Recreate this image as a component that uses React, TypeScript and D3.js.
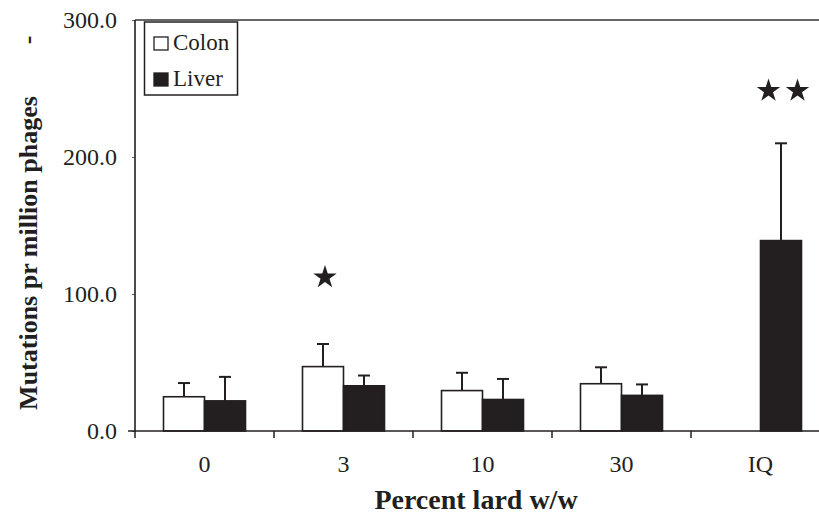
import React, { useEffect, useRef } from 'react';
import * as d3 from 'd3';

const categories = ['0', '3', '10', '30', 'IQ'];
const seriesNames = ['Colon', 'Liver'];
const colonValues: (number | null)[] = [25, 47, 29.5, 34.5, null];
const colonErrors: (number | null)[] = [10, 16.5, 13, 12, null];
const liverValues: (number | null)[] = [22, 33, 23, 26, 139];
const liverErrors: (number | null)[] = [17.5, 7.5, 15, 8, 71];
const yTicks = [0, 100, 200, 300];
// significance stars: category, series it sits over, value level, count
const stars = [
  { category: '3', series: 'Colon', level: 113, count: 1 },
  { category: 'IQ', series: 'Liver', level: 249, count: 2 },
];

const W = 819;
const H = 514;
const FONT = '"Liberation Serif", "Times New Roman", serif';

const App = () => {
  const ref = useRef<SVGSVGElement>(null);

  useEffect(() => {
    const svg = d3.select(ref.current);
    svg.selectAll('*').remove();

    const left = 135;
    const top = 20;
    const bottom = 431;

    const y = d3.scaleLinear().domain([0, 300]).range([bottom, top]);
    const x = d3.scaleBand().domain(categories).range([left, 830]).padding(0);
    const bw = x.bandwidth();
    const barW = 41;
    const x1 = d3.scaleBand().domain(seriesNames)
      .range([bw / 2 - barW, bw / 2 + barW]).padding(0);

    const rows = categories.map((c, i) => [
      { cat: c, s: 'Colon', v: colonValues[i], e: colonErrors[i], fill: '#ffffff' },
      { cat: c, s: 'Liver', v: liverValues[i], e: liverErrors[i], fill: '#231f20' },
    ]).flat().filter(d => d.v !== null);

    // top frame line
    svg.append('line')
      .attr('x1', left).attr('x2', W)
      .attr('y1', top).attr('y2', top)
      .attr('stroke', '#333').attr('stroke-width', 1.3);

    // error bars (drawn first so bars cover the stem base)
    const eb = svg.append('g').attr('stroke', '#231f20').attr('stroke-width', 2);
    rows.forEach((d) => {
      const cx = (x(d.cat) as number) + (x1(d.s) as number) + barW / 2;
      const yt = y((d.v as number) + (d.e as number));
      eb.append('line').attr('x1', cx).attr('x2', cx)
        .attr('y1', y(d.v as number)).attr('y2', yt);
      eb.append('line').attr('x1', cx - 6).attr('x2', cx + 6)
        .attr('y1', yt).attr('y2', yt);
    });

    svg.append('g').selectAll('rect').data(rows).enter()
      .append('rect')
      .attr('x', d => (x(d.cat) as number) + (x1(d.s) as number))
      .attr('y', d => y(d.v as number))
      .attr('width', barW)
      .attr('height', d => bottom - y(d.v as number))
      .attr('fill', d => d.fill)
      .attr('stroke', '#231f20')
      .attr('stroke-width', 1.6);

    // axes
    const yAxis = svg.append('g')
      .attr('transform', `translate(${left},0)`)
      .call(d3.axisLeft(y).tickValues(yTicks).tickSize(3).tickFormat(d3.format('.1f')));
    yAxis.select('.domain').remove();
    yAxis.selectAll('.tick line').attr('stroke', '#666').attr('stroke-width', 1);
    yAxis.selectAll('.tick text')
      .attr('x', -18)
      .attr('font-family', FONT)
      .attr('font-size', 24)
      .attr('fill', '#231f20');
    svg.append('line')
      .attr('x1', left).attr('x2', left)
      .attr('y1', top).attr('y2', bottom)
      .attr('stroke', '#231f20').attr('stroke-width', 1.6);
    svg.append('line')
      .attr('x1', left - 7).attr('x2', W)
      .attr('y1', bottom).attr('y2', bottom)
      .attr('stroke', '#231f20').attr('stroke-width', 1.6);

    // category boundary ticks
    const bounds = categories.map(c => x(c) as number).concat([x.range()[1]]);
    svg.append('g').selectAll('line').data(bounds).enter()
      .append('line')
      .attr('x1', d => d).attr('x2', d => d)
      .attr('y1', bottom).attr('y2', bottom + 7)
      .attr('stroke', '#231f20').attr('stroke-width', 1.5);

    svg.append('g').selectAll('text').data(categories).enter()
      .append('text')
      .attr('x', d => (x(d) as number) + bw / 2)
      .attr('y', 472)
      .attr('text-anchor', 'middle')
      .attr('font-family', FONT)
      .attr('font-size', 24)
      .attr('fill', '#231f20')
      .text(d => d);

    // stars
    const starPath = d3.symbol().type(d3.symbolStar).size(170)();
    stars.forEach((s) => {
      const cx = (x(s.category) as number) + (x1(s.series) as number) + barW / 2;
      for (let k = 0; k < s.count; k += 1) {
        const off = (k - (s.count - 1) / 2) * 29;
        svg.append('path')
          .attr('d', starPath)
          .attr('transform', `translate(${cx + off + 2},${y(s.level) + 1})`)
          .attr('fill', '#231f20');
      }
    });

    // axis titles
    svg.append('text')
      .attr('transform', 'translate(37,253) rotate(-90)')
      .attr('text-anchor', 'middle')
      .attr('font-family', FONT)
      .attr('font-weight', 'bold')
      .attr('font-size', 26)
      .attr('fill', '#231f20')
      .text('Mutations pr million phages');
    svg.append('text')
      .attr('transform', 'translate(36,40) rotate(-90)')
      .attr('text-anchor', 'middle')
      .attr('font-family', FONT)
      .attr('font-weight', 'bold')
      .attr('font-size', 26)
      .attr('fill', '#231f20')
      .text('-');
    svg.append('text')
      .attr('x', 476)
      .attr('y', 509)
      .attr('text-anchor', 'middle')
      .attr('font-family', FONT)
      .attr('font-weight', 'bold')
      .attr('font-size', 28)
      .attr('fill', '#231f20')
      .text('Percent lard w/w');

    // legend
    const lg = svg.append('g');
    lg.append('rect')
      .attr('x', 144.5).attr('y', 22)
      .attr('width', 93).attr('height', 73)
      .attr('fill', '#fff').attr('stroke', '#231f20').attr('stroke-width', 1.5);
    seriesNames.forEach((s, i) => {
      const yy = 37 + i * 36;
      lg.append('rect')
        .attr('x', 154).attr('y', yy)
        .attr('width', 14).attr('height', 13)
        .attr('fill', i === 0 ? '#fff' : '#231f20')
        .attr('stroke', '#231f20').attr('stroke-width', 1.3);
      lg.append('text')
        .attr('x', 173).attr('y', yy + 13)
        .attr('font-family', FONT)
        .attr('font-size', 23)
        .attr('fill', '#231f20')
        .text(s);
    });
  }, []);

  return (
    <svg ref={ref} width={W} height={H}
      style={{ position: 'absolute', left: 0, top: 0, background: '#fff' }} />
  );
};

export default App;
